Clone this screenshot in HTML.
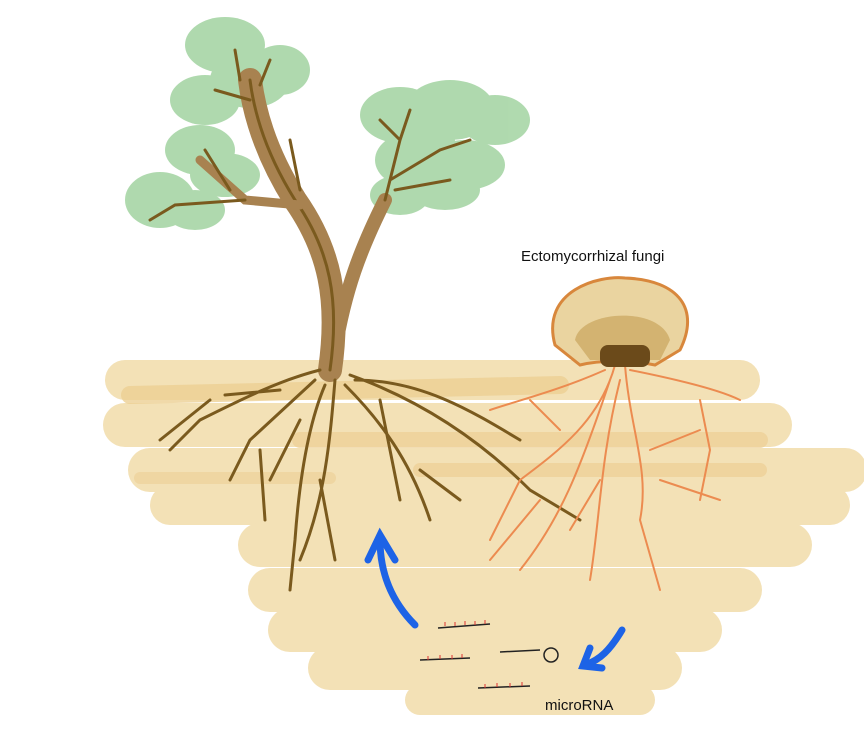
<!DOCTYPE html>
<html><head><meta charset="utf-8"><style>
html,body{margin:0;padding:0;background:#fff;width:864px;height:744px;overflow:hidden}
svg{display:block}
text{font-family:"Liberation Sans",sans-serif;fill:#111}
</style></head><body>
<svg width="864" height="744" viewBox="0 0 864 744" xmlns="http://www.w3.org/2000/svg">
<!-- soil -->
<g stroke-linecap="round" fill="none">
<path d="M125 380 L740 380" stroke="#f3e1b6" stroke-width="40"/>
<path d="M125 425 L770 425" stroke="#f3e1b6" stroke-width="44"/>
<path d="M150 470 L845 470" stroke="#f3e1b6" stroke-width="44"/>
<path d="M170 505 L830 505" stroke="#f3e1b6" stroke-width="40"/>
<path d="M260 545 L790 545" stroke="#f3e1b6" stroke-width="44"/>
<path d="M270 590 L740 590" stroke="#f3e1b6" stroke-width="44"/>
<path d="M290 630 L700 630" stroke="#f3e1b6" stroke-width="44"/>
<path d="M330 668 L660 668" stroke="#f3e1b6" stroke-width="44"/>
<path d="M420 700 L640 700" stroke="#f3e1b6" stroke-width="30"/>
<path d="M130 395 L560 385" stroke="#eccf94" stroke-width="18" opacity=".8"/>
<path d="M300 440 L760 440" stroke="#eccf94" stroke-width="16" opacity=".7"/>
<path d="M420 470 L760 470" stroke="#eccf94" stroke-width="14" opacity=".7"/>
<path d="M140 478 L330 478" stroke="#eccf94" stroke-width="12" opacity=".6"/>
</g>
<!-- canopy -->
<g fill="#62b560" opacity=".5">
<ellipse cx="225" cy="45" rx="40" ry="28"/><ellipse cx="250" cy="80" rx="40" ry="28"/>
<ellipse cx="205" cy="100" rx="35" ry="25"/><ellipse cx="280" cy="70" rx="30" ry="25"/>
<ellipse cx="200" cy="150" rx="35" ry="25"/><ellipse cx="225" cy="175" rx="35" ry="22"/>
<ellipse cx="160" cy="200" rx="35" ry="28"/><ellipse cx="195" cy="210" rx="30" ry="20"/>
<ellipse cx="400" cy="115" rx="40" ry="28"/><ellipse cx="450" cy="110" rx="45" ry="30"/>
<ellipse cx="495" cy="120" rx="35" ry="25"/><ellipse cx="420" cy="160" rx="45" ry="30"/>
<ellipse cx="465" cy="165" rx="40" ry="25"/><ellipse cx="400" cy="195" rx="30" ry="20"/>
<ellipse cx="445" cy="190" rx="35" ry="20"/>
<ellipse cx="240" cy="80" rx="20" ry="15"/><ellipse cx="430" cy="140" rx="25" ry="15"/><ellipse cx="160" cy="205" rx="15" ry="12"/>
</g>
<!-- trunk -->
<g fill="none" stroke="#7a5a1e" stroke-linecap="round">
<path d="M330 370 C340 300 330 250 295 200 C270 160 255 120 250 80" stroke="#a88250" stroke-width="24"/>
<path d="M335 350 C345 290 360 250 385 200" stroke="#a88250" stroke-width="14"/>
<path d="M330 370 C340 300 330 250 295 200 C270 160 255 120 250 80" stroke-width="3"/>
<path d="M300 205 L245 200 L200 160" stroke="#a88250" stroke-width="9"/>
<g stroke-width="3">
<path d="M240 80 L235 50 M260 85 L270 60 M250 100 L215 90 M300 190 L290 140"/>
<path d="M245 200 L175 205 L150 220 M230 190 L205 150 M385 200 L400 140 L410 110 M390 180 L440 150 L470 140 M395 190 L450 180 M400 140 L380 120"/>
<path d="M320 370 C280 380 240 400 200 420 L170 450 M315 380 L250 440 L230 480 M325 385 C310 420 300 470 295 540 L290 590 M335 380 C330 440 325 500 300 560 M345 385 C380 420 410 460 430 520 M350 375 C420 400 480 440 530 490 L580 520 M355 380 C420 380 470 410 520 440 M300 420 L270 480 M210 400 L160 440 M280 390 L225 395 M380 400 L400 500 M420 470 L460 500 M260 450 L265 520 M320 480 L335 560"/>
</g></g>
<!-- mycelium -->
<g fill="none" stroke="#ec8b50" stroke-width="2" stroke-linecap="round">
<path d="M615 365 C600 420 560 450 520 480 L490 540 M625 365 C630 430 650 470 640 520 L660 590 M605 370 C560 390 520 400 490 410 M630 370 C680 380 720 390 740 400 M610 380 C580 470 560 520 520 570 M620 380 C600 460 600 520 590 580 M560 430 L530 400 M540 500 L490 560 M650 450 L700 430 M660 480 L720 500 M600 480 L570 530 M700 400 L710 450 L700 500"/>
</g>
<!-- mushroom -->
<path d="M555 345 C540 290 600 275 625 278 C680 280 700 310 680 350 L655 365 C630 360 600 360 580 365 Z" fill="#ead4a0" stroke="#d8873c" stroke-width="3"/>
<path d="M575 340 C580 310 660 305 670 340 L660 360 L590 360 Z" fill="#c9a55c" opacity=".7"/>
<rect x="600" y="345" width="50" height="22" rx="8" fill="#6b4a1a"/>
<!-- arrows -->
<g fill="none" stroke="#1d63e6" stroke-width="7" stroke-linecap="round">
<path d="M415 625 C390 600 380 570 380 540"/>
<path d="M368 560 L380 535 L395 560"/>
<path d="M622 630 C610 650 600 660 585 665"/>
<path d="M590 648 L583 666 L602 668"/>
</g>
<!-- microRNA -->
<g stroke="#222" stroke-width="1.5" fill="none">
<path d="M438 628 L490 624 M420 660 L470 658 M478 688 L530 686 M500 652 L540 650"/>
<circle cx="551" cy="655" r="7"/>
</g>
<g stroke="#d33" stroke-width="1">
<path d="M445 626v-4M455 626v-4M465 625v-4M475 625v-4M485 624v-4M428 660v-4M440 659v-4M452 659v-4M462 658v-4M485 688v-4M497 687v-4M510 687v-4M522 686v-4"/>
</g>
<text x="521" y="261" font-size="15">Ectomycorrhizal fungi</text>
<text x="545" y="710" font-size="15">microRNA</text>
</svg>
</body></html>
